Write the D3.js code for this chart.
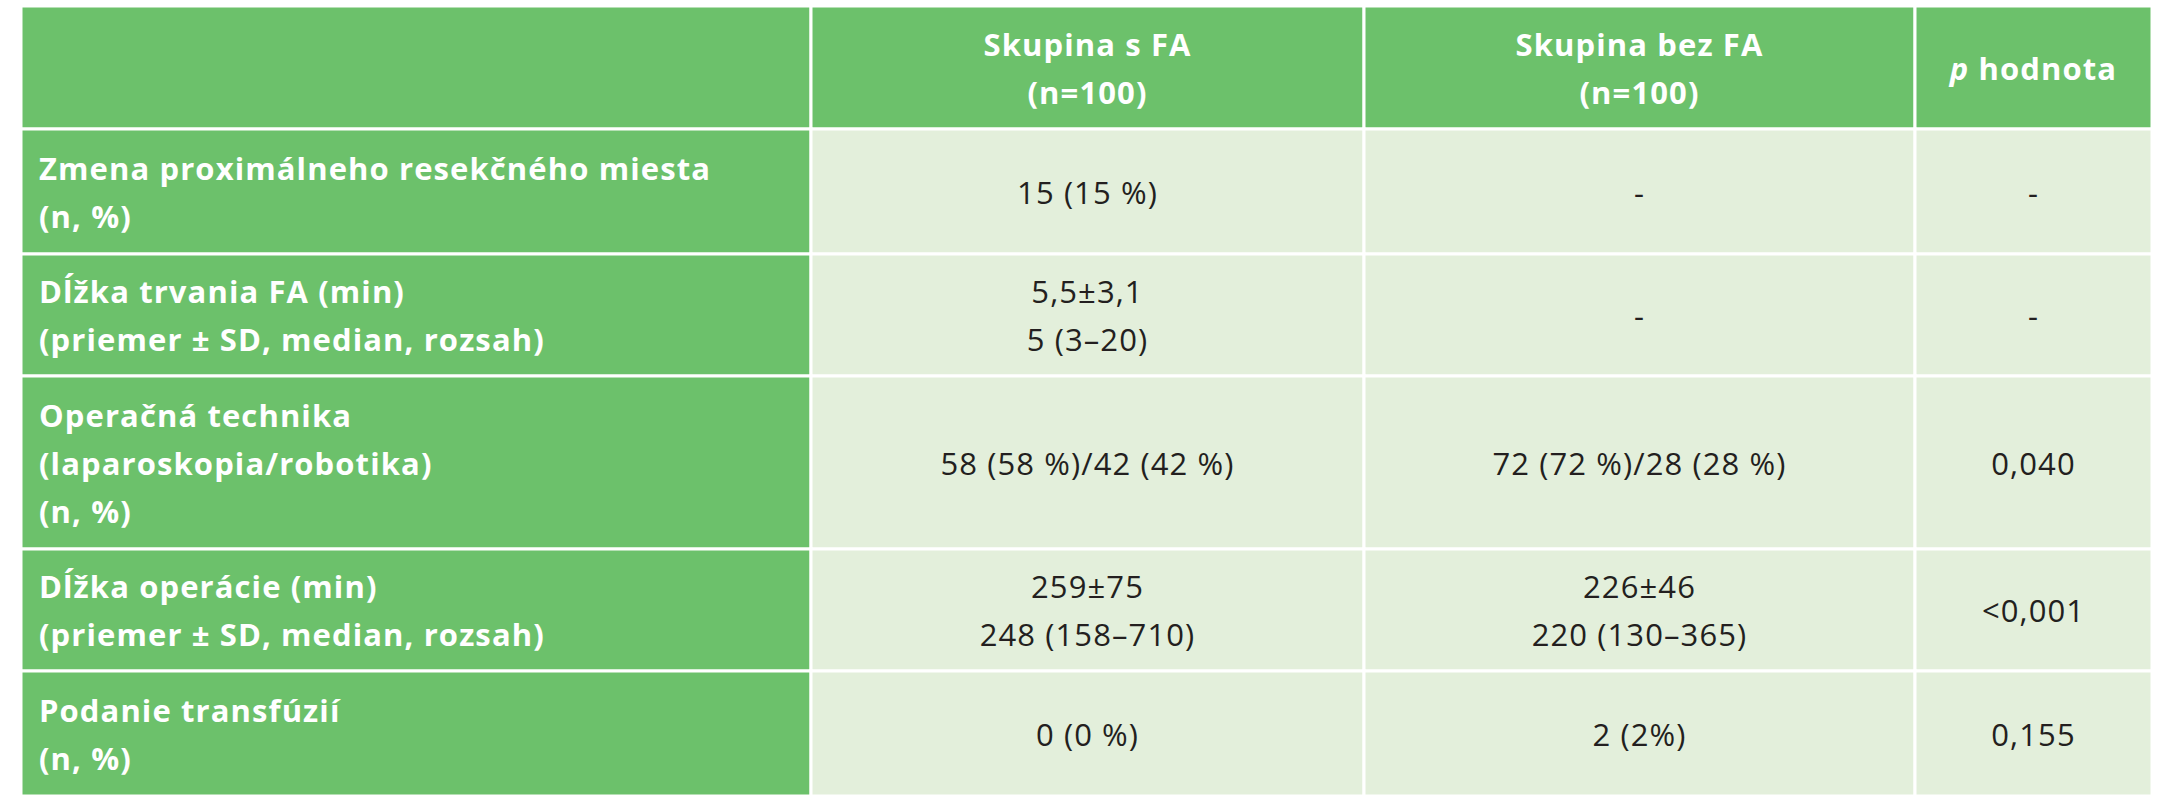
<!DOCTYPE html>
<html><head><meta charset="utf-8">
<script src="https://cdn.jsdelivr.net/npm/d3@7"></script>
<style>body{margin:0;background:#fff}</style></head>
<body><svg id="c" width="2173" height="800"></svg>
<script>
const headers = [[""], ["Skupina s FA","(n=100)"], ["Skupina bez FA","(n=100)"], ["p hodnota"]];
const rowLabels = [
  ["Zmena proximálneho resekčného miesta","(n, %)"],
  ["Dĺžka trvania FA (min)","(priemer ± SD, median, rozsah)"],
  ["Operačná technika","(laparoskopia/robotika)","(n, %)"],
  ["Dĺžka operácie (min)","(priemer ± SD, median, rozsah)"],
  ["Podanie transfúzií","(n, %)"]
];
const withFA = [["15 (15 %)"],["5,5±3,1","5 (3–20)"],["58 (58 %)/42 (42 %)"],["259±75","248 (158–710)"],["0 (0 %)"]];
const withoutFA = [["-"],["-"],["72 (72 %)/28 (28 %)"],["226±46","220 (130–365)"],["2 (2%)"]];
const pValues = [["-"],["-"],["0,040"],["<0,001"],["0,155"]];

const colEdges = [21, 811, 1364, 1915, 2152];
const rowEdges = [6, 129, 254, 376, 549, 671, 796];
const green = "#6cc16b", light = "#e3efdb", text = "#231f20";
const svg = d3.select("#c");
const font = "'Open Sans', sans-serif";
const LH = 48, FS = 31;

function cell(x0,x1,y0,y1,fill){
  svg.append("rect").attr("x",x0).attr("y",y0).attr("width",x1-x0).attr("height",y1-y0)
    .attr("fill",fill).attr("stroke","#fff").attr("stroke-width",3);
}
function lines(arr, x, yc, anchor, color, weight){
  arr.forEach((s,i)=>{
    const t = svg.append("text").attr("x",x).attr("y",yc+(i-(arr.length-1)/2)*LH+4)
      .attr("text-anchor",anchor).attr("dominant-baseline","middle")
      .attr("font-family",font).attr("font-size",FS).attr("font-weight",weight)
      .attr("letter-spacing",1.1).attr("fill",color);
    if (s==="p hodnota"){ t.append("tspan").attr("font-style","italic").text("p"); t.append("tspan").text(" hodnota"); }
    else t.text(s);
  });
}
headers.forEach((h,j)=>{
  cell(colEdges[j],colEdges[j+1],rowEdges[0],rowEdges[1],green);
  lines(h,(colEdges[j]+colEdges[j+1])/2,(rowEdges[0]+rowEdges[1])/2,"middle","#fff",700);
});
const cols = [withFA, withoutFA, pValues];
rowLabels.forEach((lab,i)=>{
  const y0=rowEdges[i+1], y1=rowEdges[i+2], yc=(y0+y1)/2;
  cell(colEdges[0],colEdges[1],y0,y1,green);
  lines(lab,colEdges[0]+18,yc,"start","#fff",700);
  cols.forEach((c,j)=>{
    cell(colEdges[j+1],colEdges[j+2],y0,y1,light);
    lines(c[i],(colEdges[j+1]+colEdges[j+2])/2,yc,"middle",text,400);
  });
});
</script></body></html>
